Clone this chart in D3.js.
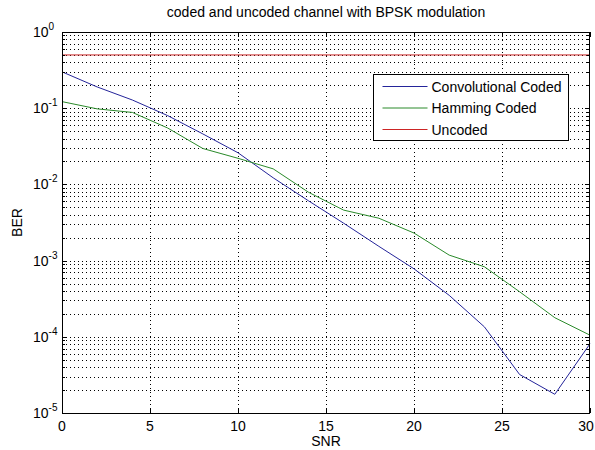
<!DOCTYPE html>
<html>
<head>
<meta charset="utf-8">
<script src="https://cdn.jsdelivr.net/npm/d3@7"></script>
<style>
  body { margin: 0; background: #fff; }
  text { font-family: "Liberation Sans", Arial, sans-serif; fill: #000; }
</style>
</head>
<body>
<div id="chart"></div>
<script>
// data
var snr = [0, 2, 4, 6, 8, 10, 12, 14, 16, 18, 20, 22, 24, 26, 28, 30];
var convCoded = [0.30, 0.19, 0.128, 0.08, 0.046, 0.026, 0.0122, 0.0061, 0.0031, 0.00154, 0.00078, 0.00035, 0.000135, 0.000032, 0.0000176, 0.000081];
var hammingCoded = [0.122, 0.098, 0.088, 0.055, 0.0296, 0.022, 0.016, 0.0079, 0.0046, 0.0036, 0.0023, 0.00118, 0.00083, 0.00039, 0.000178, 0.000105];
var uncoded = [0.5, 0.5, 0.5, 0.5, 0.5, 0.5, 0.5, 0.5, 0.5, 0.5, 0.5, 0.5, 0.5, 0.5, 0.5, 0.5];
var seriesNames = ["Convolutional Coded", "Hamming Coded", "Uncoded"];
var seriesColors = ["#24249a", "#2a8a2a", "#cc2424"];
var xTicks = [0, 5, 10, 15, 20, 25, 30];
var yExps = [0, -1, -2, -3, -4, -5];

var width = 595, height = 450;
var margin = {top: 32, right: 5, bottom: 37, left: 62};

var svg = d3.select("#chart").append("svg")
    .attr("width", width).attr("height", height);

var x = d3.scaleLinear().domain([0, 30]).range([margin.left, width - margin.right]);
var y = d3.scaleLog().domain([1e-5, 1]).range([height - margin.bottom, margin.top]);

var x0 = x.range()[0], x1 = x.range()[1];
var y0 = y.range()[0], y1 = y.range()[1];

// minor y values (2..9 per decade)
var yMinor = [];
yExps.slice(1).forEach(function(e) {
  for (var k = 2; k <= 9; k++) yMinor.push(k * Math.pow(10, e));
});

var grid = svg.append("g").attr("stroke", "#000").attr("stroke-width", 1)
    .attr("stroke-dasharray", "1,3").attr("shape-rendering", "crispEdges");

grid.selectAll(".ym").data(yMinor.concat(yExps.slice(1, 5).map(function(e) { return Math.pow(10, e); })))
  .enter().append("line")
    .attr("x1", x0).attr("x2", x1)
    .attr("y1", function(d) { return Math.round(y(d)) + 0.5; })
    .attr("y2", function(d) { return Math.round(y(d)) + 0.5; });

grid.selectAll(".xg").data(xTicks.slice(1, -1))
  .enter().append("line")
    .attr("y1", y0).attr("y2", y1)
    .attr("x1", function(d) { return Math.round(x(d)) + 0.5; })
    .attr("x2", function(d) { return Math.round(x(d)) + 0.5; });

// lines
var line = d3.line()
    .x(function(d, i) { return x(snr[i]); })
    .y(function(d) { return y(d); });

[convCoded, hammingCoded, uncoded].forEach(function(s, i) {
  svg.append("path").datum(s)
    .attr("fill", "none").attr("stroke", seriesColors[i]).attr("stroke-width", 1)
    .attr("d", line);
});

// axes box and ticks
var axes = svg.append("g").attr("stroke", "#000").attr("shape-rendering", "crispEdges");
axes.append("rect").attr("x", x0 + 0.5).attr("y", y1 + 0.5)
    .attr("width", x1 - x0 - 1).attr("height", y0 - y1)
    .attr("fill", "none");

xTicks.forEach(function(t) {
  var px = Math.round(x(t)) + 0.5;
  axes.append("line").attr("x1", px).attr("x2", px).attr("y1", y0).attr("y2", y0 - 5);
  axes.append("line").attr("x1", px).attr("x2", px).attr("y1", y1).attr("y2", y1 + 5);
});
yExps.forEach(function(e) {
  var py = Math.round(y(Math.pow(10, e))) + 0.5;
  axes.append("line").attr("x1", x0).attr("x2", x0 + 5).attr("y1", py).attr("y2", py);
  axes.append("line").attr("x1", x1).attr("x2", x1 - 5).attr("y1", py).attr("y2", py);
});
yMinor.forEach(function(v) {
  var py = Math.round(y(v)) + 0.5;
  axes.append("line").attr("x1", x0).attr("x2", x0 + 3).attr("y1", py).attr("y2", py);
  axes.append("line").attr("x1", x1).attr("x2", x1 - 3).attr("y1", py).attr("y2", py);
});

// tick labels
svg.selectAll(".xl").data(xTicks).enter().append("text")
    .attr("x", function(d) { return Math.min(x(d), width - 9); })
    .attr("y", y0 + 18)
    .attr("text-anchor", "middle").attr("font-size", 14)
    .text(function(d) { return d; });

var yl = svg.selectAll(".yl").data(yExps).enter().append("text")
    .attr("x", 33)
    .attr("y", function(d) { return y(Math.pow(10, d)) + 5; })
    .attr("font-size", 14);
yl.append("tspan").text("10");
yl.append("tspan").attr("dy", -7).attr("font-size", 10).text(function(d) { return d; });

// title and axis labels
svg.append("text").attr("x", (x0 + x1) / 2).attr("y", 17)
    .attr("text-anchor", "middle").attr("font-size", 14)
    .text("coded and uncoded channel with BPSK modulation");
svg.append("text").attr("x", (x0 + x1) / 2).attr("y", 446)
    .attr("text-anchor", "middle").attr("font-size", 14)
    .text("SNR");
svg.append("text")
    .attr("transform", "translate(22," + ((y0 + y1) / 2) + ") rotate(-90)")
    .attr("text-anchor", "middle").attr("font-size", 14)
    .text("BER");

// legend
var legend = svg.append("g").attr("transform", "translate(373.5,74.5)");
legend.append("rect").attr("width", 195).attr("height", 66)
    .attr("fill", "#fff").attr("stroke", "#000");
seriesNames.forEach(function(n, i) {
  var ly = 12 + i * 21.5;
  legend.append("line").attr("x1", 9).attr("x2", 54).attr("y1", ly).attr("y2", ly)
      .attr("stroke", seriesColors[i]).attr("stroke-width", 1);
  legend.append("text").attr("x", 58).attr("y", ly + 5).attr("font-size", 14).text(n);
});
</script>
</body>
</html>
